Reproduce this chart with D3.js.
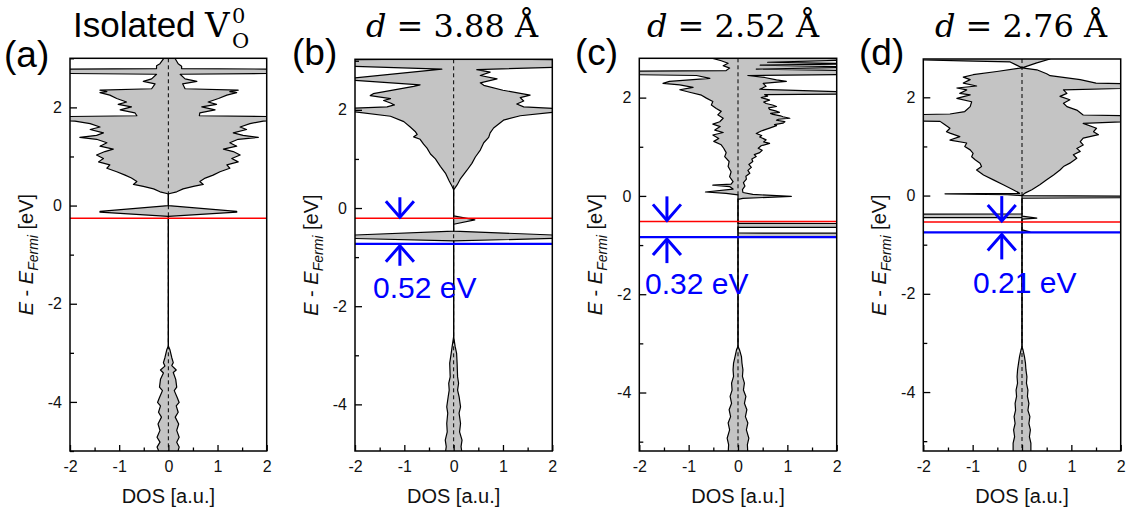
<!DOCTYPE html>
<html>
<head>
<meta charset="utf-8">
<script src="https://cdn.jsdelivr.net/npm/d3@7"></script>
<style>
  body { margin: 0; background: #fff; }
  svg { display: block; }
</style>
</head>
<body>
<svg id="chart" width="1130" height="516"></svg>
<script>
// ---- Density of states, [energy (eV), DOS (a.u.)]; spin-up positive, spin-down negative ----

const aUp = [
  [3.05,0.14],[2.99,0.14],[2.89,0.20],[2.84,0.27],[2.79,0.27],[2.775,3.2],[2.70,3.2],[2.675,0.24],
  [2.58,0.34],[2.53,0.58],[2.48,0.29],[2.38,0.34],[2.35,1.42],[2.32,1.25],[2.30,1.39],[2.25,1.19],
  [2.18,1.02],[2.11,0.81],[2.06,0.98],[2.01,0.68],[1.95,0.95],[1.89,0.64],[1.83,0.63],[1.80,3.2],
  [1.76,3.2],[1.72,1.93],[1.67,1.66],[1.60,1.46],[1.55,1.59],[1.48,1.32],[1.43,1.52],[1.39,1.83],
  [1.35,1.42],[1.28,1.25],[1.21,1.39],[1.15,1.12],[1.10,1.32],[1.03,1.46],[0.96,1.29],[0.89,1.42],
  [0.83,1.19],[0.76,1.25],[0.69,1.05],[0.62,0.91],[0.56,0.75],[0.49,0.64],[0.43,0.71],[0.39,0.51],
  [0.34,0.30],[0.28,0.17],[0.24,0.01],[0.22,0],[0.0,0],[-0.12,1.39],[-0.135,1.39],[-0.22,0],
  [-2.86,0],[-2.93,0.03],[-3.10,0.07],[-3.20,0.10],[-3.26,0.07],[-3.35,0.16],[-3.40,0.10],[-3.54,0.15],
  [-3.70,0.17],[-3.77,0.12],[-3.91,0.18],[-4.01,0.22],[-4.08,0.16],[-4.21,0.20],[-4.31,0.14],[-4.45,0.21],
  [-4.58,0.17],[-4.72,0.22],[-4.82,0.17],[-4.92,0.22],[-4.99,0.20],[-5.05,0.20]
];
const aDown = [
  [3.05,-0.10],[2.99,-0.10],[2.89,-0.17],[2.85,-0.24],[2.79,-0.24],[2.775,-3.2],[2.70,-3.2],[2.675,-0.24],
  [2.58,-0.34],[2.53,-0.51],[2.48,-0.27],[2.38,-0.34],[2.35,-1.39],[2.32,-1.25],[2.30,-1.39],[2.25,-1.19],
  [2.18,-1.05],[2.11,-0.85],[2.06,-1.02],[2.01,-0.75],[1.95,-0.98],[1.89,-0.68],[1.83,-0.64],[1.80,-3.2],
  [1.76,-3.2],[1.72,-1.90],[1.67,-1.59],[1.60,-1.39],[1.55,-1.59],[1.48,-1.32],[1.43,-1.46],[1.39,-1.80],
  [1.35,-1.46],[1.28,-1.25],[1.21,-1.39],[1.15,-1.12],[1.10,-1.29],[1.03,-1.46],[0.96,-1.32],[0.89,-1.42],
  [0.83,-1.19],[0.76,-1.25],[0.69,-1.05],[0.62,-0.88],[0.56,-0.75],[0.49,-0.64],[0.43,-0.71],[0.39,-0.51],
  [0.34,-0.30],[0.28,-0.17],[0.24,-0.01],[0.22,0],[0.0,0],[-0.12,-1.39],[-0.135,-1.39],[-0.22,0],
  [-2.86,0],[-2.93,-0.03],[-3.10,-0.07],[-3.20,-0.10],[-3.27,-0.07],[-3.35,-0.16],[-3.41,-0.10],[-3.54,-0.16],
  [-3.70,-0.18],[-3.77,-0.12],[-3.91,-0.18],[-4.01,-0.22],[-4.08,-0.16],[-4.21,-0.20],[-4.31,-0.14],[-4.45,-0.21],
  [-4.58,-0.17],[-4.72,-0.23],[-4.82,-0.17],[-4.92,-0.23],[-4.99,-0.20],[-5.05,-0.20]
];

const bUp = [
  [3.08,0.34],[3.04,0.34],[3.015,3.2],[2.90,3.2],[2.87,2.1],[2.82,0.47],[2.77,0.74],[2.70,0.54],[2.63,0.88],
  [2.55,0.54],[2.50,0.61],[2.40,1.00],[2.30,1.55],[2.25,1.35],[2.18,1.42],[2.12,1.28],[2.06,1.42],[2.02,2.2],
  [1.99,3.2],[1.97,3.2],[1.95,2.0],[1.88,1.35],[1.79,1.01],[1.63,0.81],[1.53,0.74],[1.44,0.71],[1.33,0.61],
  [1.18,0.54],[1.04,0.44],[0.91,0.37],[0.77,0.27],[0.60,0.14],[0.47,0.07],[0.37,0],
  [-0.16,0],[-0.24,0.43],[-0.33,0],[-0.47,0],[-0.593,3.1],[-0.67,0],
  [-2.62,0],[-2.82,0.03],[-2.96,0.06],[-3.16,0.07],[-3.44,0.08],[-3.57,0.10],[-3.71,0.08],[-3.84,0.11],
  [-4.05,0.14],[-4.18,0.11],[-4.39,0.14],[-4.56,0.12],[-4.73,0.17],[-4.86,0.15],[-5.0,0.17]
];
const bDown = [
  [3.08,-0.25],[3.04,-0.25],[3.015,-3.2],[2.92,-3.2],[2.89,-2.1],[2.83,-0.24],[2.64,-2.1],[2.62,-2.4],[2.60,-2.0],
  [2.51,-0.68],[2.48,-0.81],[2.33,-1.63],[2.29,-1.69],[2.23,-1.28],[2.19,-1.42],[2.14,-1.28],[2.10,-1.20],[2.06,-1.35],
  [2.03,-2.2],[1.99,-3.2],[1.97,-3.2],[1.96,-2.0],[1.87,-1.28],[1.76,-1.01],[1.65,-0.88],[1.56,-0.78],[1.50,-0.74],
  [1.45,-0.81],[1.40,-0.68],[1.30,-0.61],[1.22,-0.54],[1.10,-0.47],[1.00,-0.37],[0.85,-0.27],[0.70,-0.16],
  [0.55,-0.09],[0.44,-0.03],[0.37,0],
  [-0.47,0],[-0.593,-3.1],[-0.67,0],
  [-2.62,0],[-2.82,-0.03],[-2.96,-0.05],[-3.16,-0.08],[-3.44,-0.07],[-3.57,-0.10],[-3.71,-0.09],[-3.84,-0.11],
  [-4.05,-0.14],[-4.18,-0.12],[-4.39,-0.14],[-4.56,-0.13],[-4.73,-0.17],[-4.86,-0.15],[-5.0,-0.17]
];

const cUp = [
  [2.85,1.8],[2.80,1.8],[2.77,2.4],[2.72,0.6],[2.69,2.5],[2.66,0.45],[2.62,2.5],[2.58,0.37],[2.535,3.2],[2.48,3.2],
  [2.45,0.20],[2.41,0.54],[2.36,0.78],[2.33,0.98],[2.29,0.51],[2.23,0.57],[2.17,0.44],[2.12,2.0],[2.095,3.2],[2.08,3.2],
  [2.06,0.54],[2.03,0.60],[2.00,0.47],[1.97,0.58],[1.95,0.64],[1.91,0.52],[1.88,0.57],[1.85,0.70],[1.82,0.78],
  [1.79,0.62],[1.76,0.64],[1.73,0.76],[1.70,0.84],[1.68,0.66],[1.66,0.71],[1.63,0.86],[1.61,0.91],[1.58,1.05],
  [1.56,0.82],[1.54,0.78],[1.51,0.95],[1.48,0.91],[1.45,0.74],[1.43,0.78],[1.38,0.64],[1.35,0.55],[1.32,0.47],
  [1.27,0.37],[1.23,0.48],[1.20,0.44],[1.14,0.57],[1.10,0.52],[1.07,0.64],[1.02,0.47],[0.97,0.41],[0.93,0.49],
  [0.88,0.44],[0.84,0.33],[0.80,0.37],[0.75,0.28],[0.70,0.30],[0.64,0.22],[0.58,0.27],[0.52,0.20],[0.46,0.24],
  [0.40,0.16],[0.34,0.17],[0.27,0.11],[0.20,0.14],[0.13,0.09],[0.07,0.10],[0.03,0.30],[-0.01,1.08],[-0.05,0.10],[-0.07,0],
  [-0.56,0],[-0.565,6],[-0.635,6],[-0.64,0],[-0.755,0],[-0.76,6],[-0.825,6],[-0.83,0],
  [-3.06,0],[-3.13,0.03],[-3.27,0.07],[-3.40,0.08],[-3.54,0.10],[-3.67,0.09],[-3.81,0.13],[-3.95,0.11],[-4.08,0.16],
  [-4.22,0.13],[-4.35,0.18],[-4.49,0.15],[-4.62,0.20],[-4.76,0.17],[-4.93,0.22],[-5.06,0.19],[-5.25,0.20]
];
const cDown = [
  [2.85,-0.51],[2.80,-0.51],[2.75,-0.34],[2.70,-0.20],[2.65,-0.30],[2.60,-0.17],[2.55,-0.24],[2.535,-3.2],[2.48,-3.2],
  [2.45,-0.84],[2.39,-0.57],[2.33,-1.39],[2.29,-1.52],[2.26,-1.18],[2.21,-0.91],[2.16,-1.18],[2.11,-0.98],[2.05,-0.74],
  [1.99,-0.64],[1.92,-0.51],[1.85,-0.54],[1.78,-0.44],[1.72,-0.34],[1.65,-0.41],[1.58,-0.30],[1.51,-0.37],[1.46,-0.51],
  [1.41,-0.36],[1.34,-0.47],[1.29,-0.30],[1.24,-0.51],[1.17,-0.39],[1.11,-0.49],[1.04,-0.34],[0.97,-0.29],[0.88,-0.24],
  [0.80,-0.27],[0.70,-0.18],[0.60,-0.20],[0.49,-0.14],[0.39,-0.17],[0.29,-0.10],[0.24,-0.14],[0.22,-0.51],[0.19,-0.17],
  [0.14,-0.10],[0.08,-0.66],[0.05,-0.24],[0.02,0],
  [-3.06,0],[-3.13,-0.03],[-3.27,-0.06],[-3.40,-0.09],[-3.54,-0.10],[-3.67,-0.09],[-3.81,-0.13],[-3.95,-0.12],[-4.08,-0.16],
  [-4.22,-0.13],[-4.35,-0.18],[-4.49,-0.15],[-4.62,-0.20],[-4.76,-0.17],[-4.93,-0.22],[-5.06,-0.19],[-5.25,-0.20]
];

const dUp = [
  [2.85,0.57],[2.78,0.57],[2.70,0.30],[2.60,0],[2.56,0.30],[2.48,0.50],[2.44,0.57],[2.36,1.18],[2.29,1.5],[2.25,3.2],[2.21,3.2],
  [2.15,0.84],[2.08,0.91],[2.02,0.77],[1.95,0.97],[1.88,0.84],[1.81,0.91],[1.74,1.11],[1.64,1.24],[1.61,3.2],[1.55,3.2],
  [1.47,1.24],[1.37,1.51],[1.30,1.45],[1.24,1.55],[1.17,1.24],[1.10,1.18],[1.03,1.24],[0.96,1.11],[0.90,1.18],[0.83,1.04],
  [0.76,1.11],[0.66,0.97],[0.59,0.84],[0.52,0.77],[0.42,0.64],[0.32,0.50],[0.22,0.36],[0.12,0.20],[0.05,0.06],[0.0,0],
  [-0.02,4],[-0.035,4],[-0.055,0],[-0.42,0],[-0.46,0.30],[-0.48,0],[-0.70,0],[-0.74,0.16],[-0.76,0],
  [-3.08,0],[-3.14,0.02],[-3.28,0.05],[-3.41,0.07],[-3.55,0.08],[-3.69,0.10],[-3.82,0.09],[-3.96,0.12],[-4.09,0.11],
  [-4.23,0.14],[-4.37,0.12],[-4.50,0.16],[-4.64,0.14],[-4.77,0.17],[-4.91,0.15],[-5.04,0.18],[-5.25,0.18]
];
const dDown = [
  [2.85,-2.3],[2.78,-2.3],[2.76,-2.0],[2.74,-1.19],[2.72,-0.24],[2.66,-0.12],[2.60,0],[2.525,-0.51],[2.46,-0.99],[2.41,-1.19],
  [2.36,-1.05],[2.29,-1.19],[2.23,-0.92],[2.19,-1.32],[2.15,-1.12],[2.08,-1.26],[2.05,-1.05],[1.98,-1.32],[1.91,-1.02],
  [1.81,-1.05],[1.71,-1.16],[1.66,-1.46],[1.63,-3.2],[1.54,-3.2],[1.51,-1.66],[1.46,-1.59],[1.37,-1.46],[1.30,-1.53],
  [1.27,-1.46],[1.20,-1.26],[1.13,-1.46],[1.07,-1.12],[1.00,-1.16],[0.93,-1.05],[0.86,-0.99],[0.79,-1.02],[0.73,-0.95],
  [0.66,-0.85],[0.59,-0.82],[0.52,-0.92],[0.42,-0.78],[0.32,-0.58],[0.22,-0.38],[0.12,-0.18],[0.06,-0.07],
  [0.045,-0.05],[0.035,-1.56],[0.02,-0.3],[0.0,0],
  [-0.375,0],[-0.38,-6],[-0.445,-6],[-0.45,0],
  [-3.08,0],[-3.14,-0.02],[-3.28,-0.05],[-3.41,-0.07],[-3.55,-0.09],[-3.69,-0.10],[-3.82,-0.09],[-3.96,-0.12],[-4.09,-0.11],
  [-4.23,-0.14],[-4.37,-0.13],[-4.50,-0.16],[-4.64,-0.14],[-4.77,-0.17],[-4.91,-0.15],[-5.04,-0.18],[-5.25,-0.18]
];

// Occupied defect level (red) and the gap to the level below it (blue), eV
const redLevels = [-0.26, -0.2085, -0.518, -0.54];
const gapValues = [null, 0.52, 0.32, 0.21];

// Axis ticks
const xMajor = [-2, -1, 0, 1, 2];
const xMinor = [-1.5, -0.5, 0.5, 1.5];
const yMajor = [-4, -2, 0, 2];
const yMinor = [-5, -3, -1, 1, 3];

const panelLetters = ['(a)', '(b)', '(c)', '(d)'];
const distances = [null, '3.88', '2.52', '2.76'];

// ---- Layout ----
const panels = [
  { up: aUp, down: aDown, box: { l: 70,    r: 266.7,  t: 58.3, b: 451 }, yDomain: [-5, 3],
    letter: { x: 4, y: 67 }, titleX: 0, arrowX: null, arrowLen: 0, labelX: 0, labelY: 0 },
  { up: bUp, down: bDown, box: { l: 355,   r: 552.3,  t: 59.3, b: 451 }, yDomain: [-4.95, 3.03],
    letter: { x: 292, y: 65 }, titleX: 452, arrowX: -1.09, arrowLen: 20, labelX: 373, labelY: 298 },
  { up: cUp, down: cDown, box: { l: 639.3, r: 836.7,  t: 58.3, b: 451 }, yDomain: [-5.19, 2.8],
    letter: { x: 575, y: 65 }, titleX: 733, arrowX: -1.44, arrowLen: 24, labelX: 645, labelY: 294 },
  { up: dUp, down: dDown, box: { l: 923.3, r: 1120.7, t: 59,   b: 451 }, yDomain: [-5.2, 2.78],
    letter: { x: 859, y: 65 }, titleX: 1021, arrowX: -0.41, arrowLen: 25, labelX: 973, labelY: 293 }
];

const SANS = "'Liberation Sans', Arial, sans-serif";
const SERIF = "'DejaVu Serif', serif";
const FILL = '#c4c4c4';
const svg = d3.select('#chart');

panels.forEach((p, i) => {
  const x = d3.scaleLinear().domain([-2, 2]).range([p.box.l, p.box.r]);
  const y = d3.scaleLinear().domain(p.yDomain).range([p.box.b, p.box.t]);
  const g = svg.append('g');

  const clipId = 'plot-clip-' + i;
  svg.append('defs').append('clipPath').attr('id', clipId)
    .append('rect')
    .attr('x', p.box.l).attr('y', p.box.t)
    .attr('width', p.box.r - p.box.l).attr('height', p.box.b - p.box.t);
  const plot = g.append('g').attr('clip-path', `url(#${clipId})`);

  const area = d3.area().y(d => y(d[0])).x0(x(0)).x1(d => x(d[1]));
  const line = d3.line().x(d => x(d[1])).y(d => y(d[0]));

  [p.down, p.up].forEach(s => plot.append('path').attr('d', area(s)).attr('fill', FILL));

  // zero-DOS reference line
  plot.append('line')
    .attr('x1', x(0)).attr('x2', x(0)).attr('y1', p.box.t).attr('y2', p.box.b)
    .attr('stroke', '#000').attr('stroke-width', 1).attr('stroke-dasharray', '4,3');

  [p.down, p.up].forEach(s => plot.append('path').attr('d', line(s))
    .attr('fill', 'none').attr('stroke', '#000').attr('stroke-width', 1.2)
    .attr('stroke-linejoin', 'round'));

  // defect levels
  const red = redLevels[i];
  plot.append('line').attr('x1', p.box.l).attr('x2', p.box.r)
    .attr('y1', y(red)).attr('y2', y(red))
    .attr('stroke', '#ff0000').attr('stroke-width', 1.5);
  const gap = gapValues[i];
  let blue = null;
  if (gap !== null) {
    blue = red - gap;
    plot.append('line').attr('x1', p.box.l).attr('x2', p.box.r)
      .attr('y1', y(blue)).attr('y2', y(blue))
      .attr('stroke', '#0000ff').attr('stroke-width', 2.2);
  }

  // frame
  g.append('rect')
    .attr('x', p.box.l).attr('y', p.box.t)
    .attr('width', p.box.r - p.box.l).attr('height', p.box.b - p.box.t)
    .attr('fill', 'none').attr('stroke', '#000').attr('stroke-width', 1.5);

  // axes with inward ticks
  const styleAxis = s => {
    s.select('.domain').remove();
    s.attr('font-family', SANS).attr('font-size', 16);
    s.selectAll('.tick line').attr('stroke-width', 1.3);
    s.selectAll('.tick text').attr('fill', '#111');
  };
  g.append('g').attr('transform', `translate(0,${p.box.b})`)
    .call(d3.axisBottom(x).tickValues(xMajor).tickSize(-6).tickPadding(10).tickFormat(d => String(d)))
    .call(styleAxis);
  g.append('g').attr('transform', `translate(0,${p.box.b})`)
    .call(d3.axisBottom(x).tickValues(xMinor).tickSize(-3.5).tickFormat(''))
    .call(styleAxis);
  g.append('g').attr('transform', `translate(${p.box.l},0)`)
    .call(d3.axisLeft(y).tickValues(yMajor).tickSize(-7).tickPadding(8).tickFormat(d => String(d)))
    .call(styleAxis);
  g.append('g').attr('transform', `translate(${p.box.l},0)`)
    .call(d3.axisLeft(y).tickValues(yMinor.filter(v => v >= p.yDomain[0] && v <= p.yDomain[1]))
      .tickSize(-4).tickFormat(''))
    .call(styleAxis);

  // axis titles
  const cx = (p.box.l + p.box.r) / 2;
  const cy = (p.box.t + p.box.b) / 2;
  g.append('text').attr('x', cx).attr('y', 503).attr('text-anchor', 'middle')
    .attr('font-family', SANS).attr('font-size', 20).attr('fill', '#111')
    .text('DOS [a.u.]');
  const yt = g.append('text')
    .attr('transform', `translate(${p.box.l - 37},${cy}) rotate(-90)`)
    .attr('text-anchor', 'middle').attr('font-family', SANS).attr('font-size', 20).attr('fill', '#111');
  yt.append('tspan').attr('font-style', 'italic').text('E');
  yt.append('tspan').text(' - ');
  yt.append('tspan').attr('font-style', 'italic').text('E');
  yt.append('tspan').attr('font-style', 'italic').attr('font-size', 14).attr('dy', 5).text('Fermi');
  yt.append('tspan').attr('dy', -5).text(' [eV]');

  // panel letter
  g.append('text').attr('x', p.letter.x).attr('y', p.letter.y)
    .attr('font-family', SANS).attr('font-size', 37).attr('fill', '#000')
    .text(panelLetters[i]);

  // panel title
  if (i === 0) {
    g.append('text').attr('x', 73).attr('y', 37)
      .attr('font-family', SANS).attr('font-size', 35).attr('fill', '#000').text('Isolated');
    g.append('text').attr('x', 205).attr('y', 37)
      .attr('font-family', SERIF).attr('font-size', 34).attr('fill', '#000').text('V');
    // stacked charge superscript and site subscript
    g.append('text').attr('x', 232).attr('y', 23)
      .attr('font-family', SERIF).attr('font-size', 21).attr('fill', '#000').text('0');
    g.append('text').attr('x', 232).attr('y', 48)
      .attr('font-family', SERIF).attr('font-size', 21).attr('fill', '#000').text('O');
  } else {
    const t = g.append('text').attr('x', p.titleX).attr('y', 37).attr('text-anchor', 'middle')
      .attr('font-family', SERIF).attr('font-size', 32).attr('fill', '#000');
    t.append('tspan').attr('font-style', 'italic').text('d');
    t.append('tspan').text(` = ${distances[i]} Å`);
  }

  // gap arrows and label
  if (gap !== null) {
    const ax = x(p.arrowX);
    const L = p.arrowLen, hw = 14, hh = 16;
    const tipDown = y(red) - 1;
    const tipUp = y(blue) + 2;
    const arrows = g.append('g').attr('stroke', '#0000ff').attr('stroke-width', 3)
      .attr('fill', 'none').attr('stroke-linecap', 'butt');
    arrows.append('line').attr('x1', ax).attr('x2', ax).attr('y1', tipDown - L).attr('y2', tipDown);
    arrows.append('polyline').attr('points',
      `${ax - hw},${tipDown - hh} ${ax},${tipDown} ${ax + hw},${tipDown - hh}`);
    arrows.append('line').attr('x1', ax).attr('x2', ax).attr('y1', tipUp).attr('y2', tipUp + L);
    arrows.append('polyline').attr('points',
      `${ax - hw},${tipUp + hh} ${ax},${tipUp} ${ax + hw},${tipUp + hh}`);
    g.append('text').attr('x', p.labelX).attr('y', p.labelY)
      .attr('font-family', SANS).attr('font-size', 30).attr('fill', '#0000ff')
      .text(`${gap.toFixed(2)} eV`);
  }
});
</script>
</body>
</html>
